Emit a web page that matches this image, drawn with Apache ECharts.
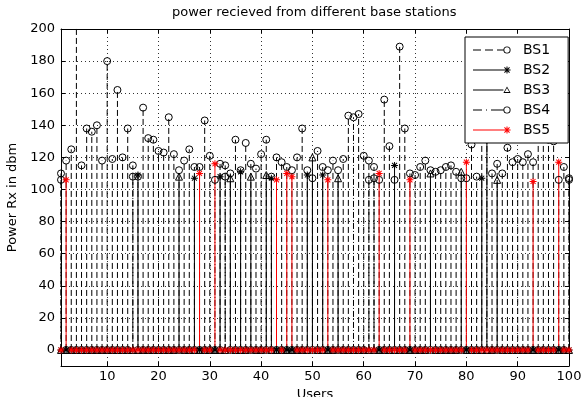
<!DOCTYPE html>
<html><head><meta charset="utf-8">
<script src="https://cdn.jsdelivr.net/npm/echarts@6/dist/echarts.min.js"></script>
<style>html,body{margin:0;padding:0;background:#fff}#c{width:582px;height:397px}</style>
</head><body><div id="c"></div>
<script>
const chartTitle = 'power recieved from different base stations';
const xName = 'Users';
const yName = 'Power Rx in dbm';
const seriesNames = ['BS1', 'BS2', 'BS3', 'BS4', 'BS5'];
const xTicks = [10, 20, 30, 40, 50, 60, 70, 80, 90, 100];
const yTicks = [0, 20, 40, 60, 80, 100, 120, 140, 160, 180, 200];
const users = Array.from({length: 100}, (_, i) => i + 1);

const bs1 = [110,118,125,230,115,138,136,140,118,180,
             119,162,120,138,115,108,151,132,131,124,
             123,145,122,112,118,125,114,114,143,121,
             0,116,115,110,131,112,129,116,113,122,
             131,108,120,117,114,112,120,138,112,107,
             124,114,112,118,112,119,146,0,147,121,
             118,114,106,156,127,106,189,138,110,109,
             114,118,112,111,112,114,115,111,107,107,
             128,108,145,0,110,116,110,126,117,119,
             117,122,117,134,132,131,130,106,114,106];
const bs2 = [0,0,0,0,0,0,0,0,0,0,
             0,0,0,0,0,109,0,0,0,0,
             0,0,0,0,0,0,107,0,0,0,
             0,108,0,0,0,111,0,0,0,0,
             0,107,0,0,0,0,0,0,109,0,
             0,109,0,0,0,0,0,0,0,0,
             0,0,0,0,0,115,0,0,0,0,
             0,0,0,0,0,0,0,0,0,0,
             0,0,107,135,0,0,0,0,0,0,
             0,0,0,0,0,0,0,0,0,0];
const bs3 = [0,0,0,0,0,0,0,0,0,0,
             0,0,0,0,0,0,0,0,0,0,
             0,0,0,108,0,0,0,0,0,0,
             0,0,0,107,0,0,0,108,0,0,
             109,0,0,0,0,0,0,0,0,120,
             0,0,0,0,107,0,0,0,0,0,
             0,0,0,0,0,0,0,0,0,0,
             0,0,110,0,0,0,0,0,111,0,
             0,0,0,0,0,106,0,0,0,0,
             0,0,0,0,0,0,0,0,0,0];
const bs4 = [106,0,0,0,0,0,0,0,0,0,
             0,0,0,0,108,0,0,0,0,0,
             0,0,0,0,0,0,0,0,0,0,
             106,0,108,0,0,0,0,0,0,0,
             0,0,0,0,0,0,0,0,0,0,
             0,0,0,0,0,0,0,145,0,0,
             106,107,0,0,0,0,0,0,0,0,
             0,0,0,0,0,0,0,0,0,0,
             0,0,0,150,0,0,0,0,0,0,
             0,0,0,0,0,0,0,0,0,107];
const bs5 = [0,106,0,0,0,0,0,0,0,0,
             0,0,0,0,0,0,0,0,0,0,
             0,0,0,0,0,0,0,110,0,0,
             116,0,0,0,0,0,0,0,0,0,
             0,0,106,0,110,108,0,0,0,0,
             0,0,106,0,0,0,0,0,0,0,
             0,0,110,0,0,0,0,0,106,0,
             0,0,0,0,0,0,0,0,0,117,
             0,0,0,0,0,0,0,0,0,0,
             0,0,105,0,0,0,0,117,0,0];

const FONT = 'DejaVu Sans';

function f(n){ return n.toFixed(2); }
function asteriskPath(cx, cy, r, t){
  let p = '';
  [0, 45, 90, 135].forEach(a => {
    const rad = a * Math.PI / 180, c = Math.cos(rad), s = Math.sin(rad);
    const pts = [[-r,-t/2],[r,-t/2],[r,t/2],[-r,t/2]].map(([x,y]) => [cx + x*c - y*s, cy + x*s + y*c]);
    p += 'M' + pts.map(q => f(q[0]) + ',' + f(q[1])).join('L') + 'Z';
  });
  return p;
}
function ringPath(cx, cy, r, ri){
  return 'M'+f(cx-r)+','+f(cy)+'A'+r+','+r+' 0 1 1 '+f(cx+r)+','+f(cy)+'A'+r+','+r+' 0 1 1 '+f(cx-r)+','+f(cy)+'Z'
       + 'M'+f(cx-ri)+','+f(cy)+'A'+ri+','+ri+' 0 1 0 '+f(cx+ri)+','+f(cy)+'A'+ri+','+ri+' 0 1 0 '+f(cx-ri)+','+f(cy)+'Z';
}
function triPath(cx, cy, r){
  const o = [[cx, cy - r], [cx + r, cy + r*0.8], [cx - r, cy + r*0.8]];
  const g = [cx, cy + r*0.2];
  const k = 0.62;
  const i = o.map(p => [g[0] + (p[0]-g[0])*k, g[1] + (p[1]-g[1])*k]);
  return 'M'+o.map(p=>f(p[0])+','+f(p[1])).join('L')+'Z'
       + 'M'+[i[0],i[2],i[1]].map(p=>f(p[0])+','+f(p[1])).join('L')+'Z';
}
function rect(a, b){ return 'M'+a+',5.5L'+b+',5.5L'+b+',6.5L'+a+',6.5Z'; }
const LW = 45, MX = 34, MR = 3.6;
function legendIcon(lineKind, marker){
  let segs;
  const end = marker === 'star' ? MX : MX - MR;
  if (lineKind === 'dash') segs = [[0,8],[12,20],[24,end]];
  else if (lineKind === 'dashdot') segs = [[0,9],[13,14],[18,end]];
  else segs = [[0,end]];
  let p = 'M0,0L0,0Z M'+LW+',12L'+LW+',12Z';
  segs.forEach(s => p += rect(s[0], s[1]));
  if (marker === 'circle') p += ringPath(MX, 6, MR, MR - 0.95);
  else if (marker === 'star') p += asteriskPath(MX, 6, MR, 1);
  else p += triPath(MX, 6, MR);
  return 'path://' + p;
}
const starSymbol = 'path://' + asteriskPath(5, 5, 5, 1.4);

function stemData(vals){
  const d = [];
  vals.forEach((v, i) => {
    const u = users[i];
    d.push({value: [u, 0], symbol: 'none'});
    d.push([u, v]);
    d.push([u, '-']);
  });
  return d;
}

const styles = [
  {vals: bs1, color: '#000', dash: [6, 3], symbol: 'circle', hollow: true, lk: 'dash', mk: 'circle'},
  {vals: bs2, color: '#000', dash: 'solid', symbol: starSymbol, hollow: false, lk: 'solid', mk: 'star'},
  {vals: bs3, color: '#000', dash: 'solid', symbol: 'triangle', hollow: true, lk: 'solid', mk: 'tri'},
  {vals: bs4, color: '#000', dash: [6, 2, 1, 2], symbol: 'circle', hollow: true, lk: 'dashdot', mk: 'circle'},
  {vals: bs5, color: '#ff0000', dash: 'solid', symbol: starSymbol, hollow: false, lk: 'solid', mk: 'star'}
];

const series = styles.map((s, k) => ({
  name: seriesNames[k],
  type: 'line',
  data: stemData(s.vals),
  symbol: s.symbol,
  symbolSize: 7,
  showSymbol: true,
  connectNulls: false,
  silent: true,
  clip: true,
  lineStyle: {color: s.color, width: 1, type: s.dash},
  itemStyle: s.hollow ? {color: 'rgba(0,0,0,0)', borderColor: s.color, borderWidth: 1}
                      : {color: s.color, borderWidth: 0},
  emphasis: {disabled: true}
}));

const labelStyle = {color: '#000', fontSize: 13, fontFamily: FONT};
const chart = echarts.init(document.getElementById('c'), null, {renderer: 'canvas'});
chart.setOption({
  animation: false,
  backgroundColor: '#fff',
  title: {
    text: chartTitle, left: 172, top: 6, padding: 0,
    textStyle: {fontSize: 13, fontWeight: 'normal', color: '#000', fontFamily: FONT}
  },
  legend: {
    orient: 'vertical', left: 465, top: 37,
    padding: [6, 18, 6, 8], itemGap: 6, itemWidth: LW, itemHeight: 12,
    backgroundColor: '#fff', borderColor: '#000', borderWidth: 1, borderRadius: 0,
    selectedMode: false,
    textStyle: {fontSize: 14, color: '#000', fontFamily: FONT},
    data: styles.map((s, k) => ({
      name: seriesNames[k],
      icon: legendIcon(s.lk, s.mk),
      itemStyle: {color: s.color, borderWidth: 0}
    }))
  },
  grid: {left: 61, right: 13, top: 29, bottom: 31, containLabel: false, outerBoundsMode: 'none'},
  xAxis: [{
    type: 'value', min: users[0], max: users[users.length - 1],
    splitNumber: 10, minInterval: 10, maxInterval: 10,
    name: xName, nameLocation: 'middle', nameGap: 20,
    nameTextStyle: labelStyle,
    axisLine: {show: true, onZero: false, lineStyle: {color: '#000', width: 1}},
    axisTick: {show: true, inside: true, length: 4, lineStyle: {color: '#000'}},
    axisLabel: {show: true, margin: 4, showMinLabel: false, ...labelStyle,
      formatter: v => xTicks.includes(v) ? String(v) : ''},
    splitLine: {show: true, lineStyle: {color: '#333', width: 1, type: [1, 3]}}
  }, {
    type: 'value', position: 'top', min: users[0], max: users[users.length - 1],
    splitNumber: 10, minInterval: 10, maxInterval: 10,
    axisLine: {show: true, onZero: false, lineStyle: {color: '#000', width: 1}},
    axisTick: {show: true, inside: true, length: 4, lineStyle: {color: '#000'}},
    axisLabel: {show: false}, splitLine: {show: false}
  }],
  yAxis: [{
    type: 'value', min: -10, max: yTicks[yTicks.length - 1],
    splitNumber: 10, minInterval: 20, maxInterval: 20,
    name: yName, nameLocation: 'middle', nameGap: 42, nameRotate: 90,
    nameTextStyle: labelStyle,
    axisLine: {show: true, onZero: false, lineStyle: {color: '#000', width: 1}},
    axisTick: {show: true, inside: true, length: 4, lineStyle: {color: '#000'}},
    axisLabel: {show: true, margin: 6, showMinLabel: false, ...labelStyle,
      formatter: v => yTicks.includes(v) ? String(v) : ''},
    splitLine: {show: true, lineStyle: {color: '#333', width: 1, type: [1, 3]}}
  }, {
    type: 'value', position: 'right', min: -10, max: yTicks[yTicks.length - 1],
    splitNumber: 10, minInterval: 20, maxInterval: 20,
    axisLine: {show: true, onZero: false, lineStyle: {color: '#000', width: 1}},
    axisTick: {show: true, inside: true, length: 4, lineStyle: {color: '#000'}},
    axisLabel: {show: false}, splitLine: {show: false}
  }],
  series: series
});
</script>
</body></html>
